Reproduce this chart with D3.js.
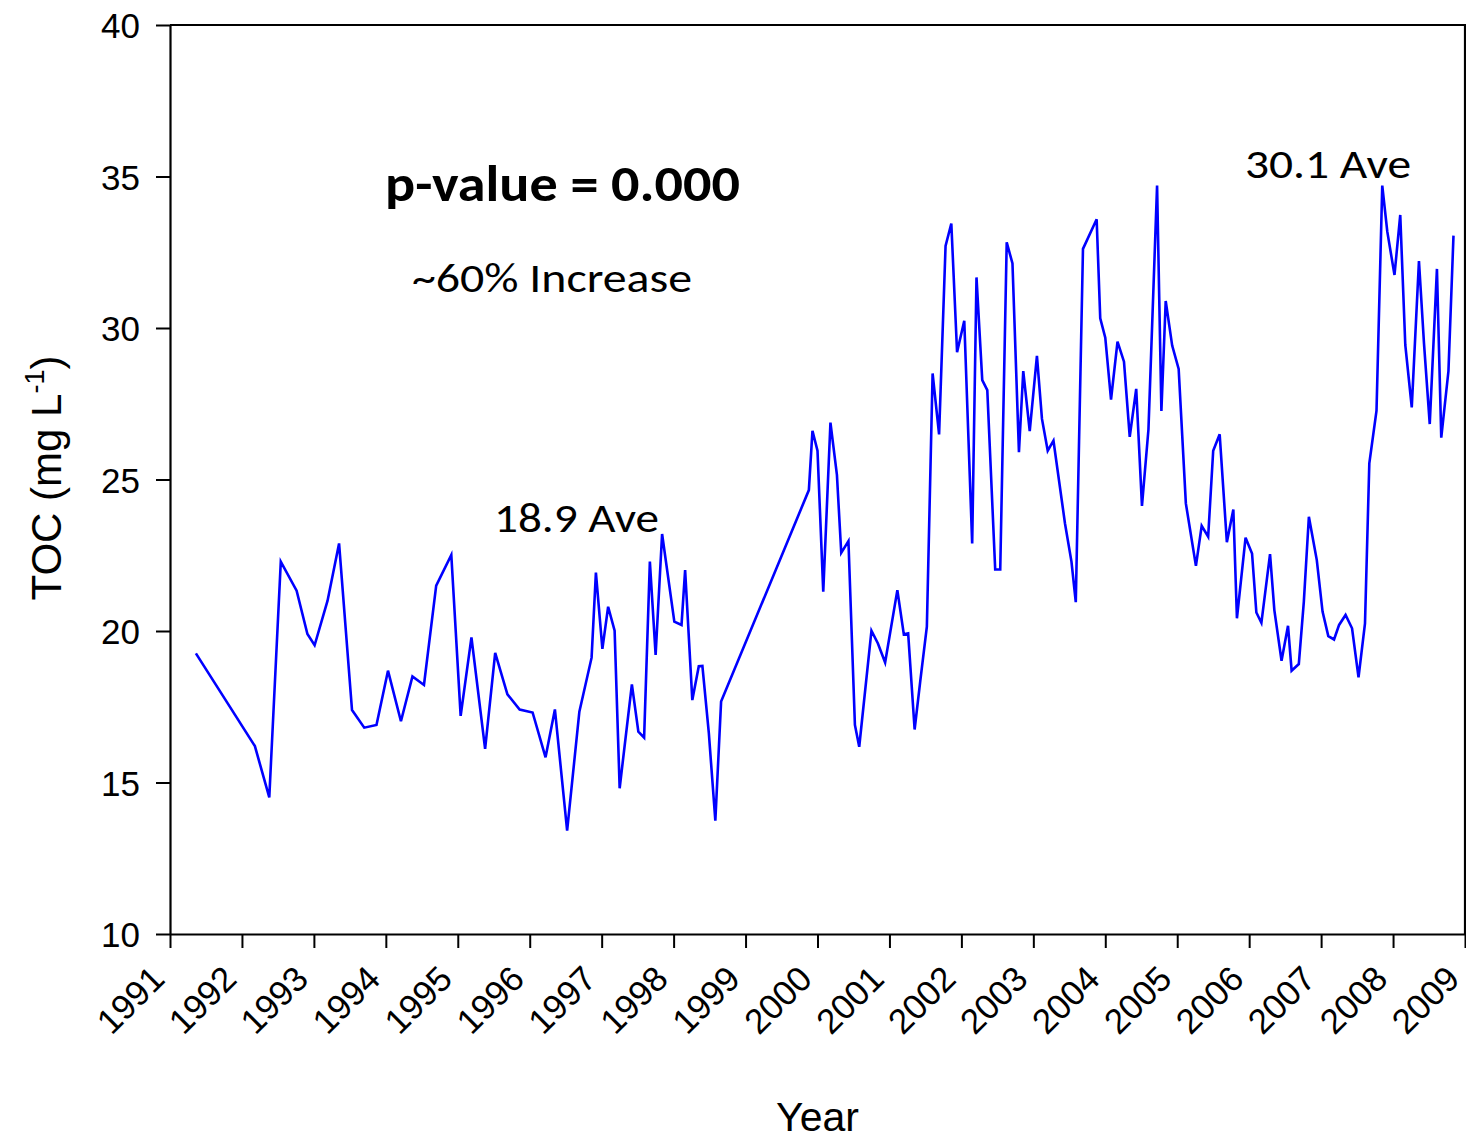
<!DOCTYPE html>
<html>
<head>
<meta charset="utf-8">
<script src="https://cdn.jsdelivr.net/npm/d3@7"></script>
<style>
  html, body { margin: 0; padding: 0; background: #fff; }
  svg { display: block; }
  .tick text { font-family: "Liberation Sans", Arial, sans-serif; font-size: 35px; fill: #000; }
</style>
</head>
<body>
<svg id="chart" width="1466" height="1140"></svg>
<script>
// Sampling dates (decimal year) and TOC concentrations (mg/L)
const sampleYear = [
  1991.36, 1992.18, 1992.38, 1992.54, 1992.76, 1992.91, 1993.01, 1993.19, 1993.35, 1993.53,
  1993.70, 1993.87, 1994.03, 1994.21, 1994.37, 1994.53, 1994.70, 1994.91, 1995.04, 1995.19,
  1995.38, 1995.52, 1995.69, 1995.86, 1996.04, 1996.22, 1996.35, 1996.52, 1996.69, 1996.86,
  1996.92, 1997.01, 1997.09, 1997.18, 1997.25, 1997.42, 1997.51, 1997.59, 1997.67, 1997.75,
  1997.84, 1998.01, 1998.11, 1998.16, 1998.26, 1998.35, 1998.40, 1998.49, 1998.58, 1998.66,
  1999.88, 1999.93, 2000.00, 2000.08, 2000.18, 2000.27, 2000.33, 2000.43, 2000.52, 2000.58,
  2000.75, 2000.84, 2000.94, 2001.11, 2001.20, 2001.26, 2001.35, 2001.43, 2001.52, 2001.60,
  2001.69, 2001.78, 2001.86, 2001.94, 2002.04, 2002.15, 2002.21, 2002.29, 2002.36, 2002.47,
  2002.54, 2002.63, 2002.71, 2002.80, 2002.86, 2002.95, 2003.05, 2003.12, 2003.20, 2003.28,
  2003.44, 2003.53, 2003.59, 2003.69, 2003.88, 2003.93, 2004.00, 2004.08, 2004.17, 2004.26,
  2004.34, 2004.43, 2004.51, 2004.60, 2004.72, 2004.78, 2004.84, 2004.93, 2005.02, 2005.12,
  2005.26, 2005.34, 2005.43, 2005.50, 2005.59, 2005.69, 2005.78, 2005.83, 2005.95, 2006.04,
  2006.10, 2006.17, 2006.29, 2006.35, 2006.45, 2006.54, 2006.59, 2006.69, 2006.76, 2006.83,
  2006.94, 2007.02, 2007.10, 2007.18, 2007.25, 2007.34, 2007.43, 2007.52, 2007.61, 2007.67,
  2007.77, 2007.85, 2007.92, 2008.02, 2008.10, 2008.17, 2008.26, 2008.36, 2008.43, 2008.51,
  2008.61, 2008.67, 2008.77, 2008.84
];

const tocValue = [
  19.26, 16.20, 14.51, 22.29, 21.33, 19.90, 19.53, 21.00, 22.89, 17.39,
  16.81, 16.90, 18.69, 17.02, 18.50, 18.22, 21.50, 22.51, 17.20, 19.79,
  16.11, 19.28, 17.91, 17.41, 17.31, 15.83, 17.41, 13.41, 17.34, 19.12,
  21.93, 19.41, 20.80, 20.01, 14.81, 18.24, 16.68, 16.48, 22.29, 19.21,
  23.20, 20.31, 20.20, 22.01, 17.72, 18.84, 18.85, 16.62, 13.74, 17.67,
  24.65, 26.61, 25.95, 21.30, 26.88, 25.15, 22.58, 22.97, 16.90, 16.18,
  20.01, 19.59, 18.96, 21.35, 19.89, 19.92, 16.75, 18.38, 20.14, 28.50,
  26.49, 32.71, 33.45, 29.20, 30.24, 22.89, 31.67, 28.28, 27.95, 22.03,
  22.03, 32.83, 32.13, 25.90, 28.58, 26.60, 29.08, 27.00, 25.95, 26.28,
  23.55, 22.29, 20.95, 32.61, 33.59, 30.32, 29.68, 27.64, 29.55, 28.89,
  26.41, 27.99, 24.13, 26.65, 34.70, 27.26, 30.89, 29.42, 28.65, 24.21,
  22.15, 23.47, 23.11, 25.95, 26.49, 22.93, 24.01, 20.42, 23.08, 22.56,
  20.61, 20.27, 22.54, 20.69, 19.02, 20.17, 18.69, 18.91, 20.97, 23.77,
  22.34, 20.64, 19.83, 19.72, 20.20, 20.53, 20.09, 18.47, 20.25, 25.53,
  27.27, 34.70, 33.18, 31.75, 33.73, 29.44, 27.38, 32.21, 29.49, 26.83,
  31.95, 26.38, 28.58, 33.05
];

// Axis ticks
const yearTicks = d3.range(1991, 2010);
const tocTicks = [10, 15, 20, 25, 30, 35, 40];

const margin = { top: 25, right: 1, bottom: 206, left: 170 };
const W = 1466, H = 1140;
const innerW = W - margin.left - margin.right;
const innerH = H - margin.top - margin.bottom;

const svg = d3.select("#chart");
const g = svg.append("g").attr("transform", `translate(${margin.left},${margin.top})`);

const x = d3.scaleLinear().domain([1991, 2009]).range([0, innerW]);
const y = d3.scaleLinear().domain([10, 40]).range([innerH, 0]);

const points = sampleYear.map((yr, i) => ({ yr, v: tocValue[i] }));

// Data line
const line = d3.line().x(d => x(d.yr)).y(d => y(d.v));
g.append("path")
  .datum(points)
  .attr("fill", "none")
  .attr("stroke", "#0000ff")
  .attr("stroke-width", 2.6)
  .attr("stroke-linejoin", "miter")
  .attr("d", line);

// Frame: top and right edges
g.append("path")
  .attr("d", `M0,0H${innerW}V${innerH}`)
  .attr("fill", "none")
  .attr("stroke", "#000")
  .attr("stroke-width", 2.2);

// X axis
const xAxis = g.append("g")
  .attr("transform", `translate(0,${innerH})`)
  .call(d3.axisBottom(x).tickValues(yearTicks).tickFormat(d3.format("d")).tickSize(14).tickSizeOuter(0));
xAxis.select(".domain").attr("stroke-width", 2.2);
xAxis.selectAll(".tick line").attr("stroke-width", 2);
xAxis.selectAll(".tick text")
  .attr("x", 0).attr("y", 0).attr("dy", 0)
  .attr("text-anchor", "end")
  .attr("transform", "translate(-4,47) rotate(-45)");

// Y axis
const yAxis = g.append("g")
  .call(d3.axisLeft(y).tickValues(tocTicks).tickSize(14).tickSizeOuter(0));
yAxis.select(".domain").attr("stroke-width", 2.2);
yAxis.selectAll(".tick line").attr("stroke-width", 2);
yAxis.selectAll(".tick text").attr("x", -30).attr("dy", "0.36em");

// Axis titles
svg.append("text")
  .attr("x", margin.left + x(2000)).attr("y", 1131)
  .attr("text-anchor", "middle")
  .attr("font-family", "Liberation Sans, Arial, sans-serif")
  .attr("font-size", 41)
  .text("Year");

const yTitle = svg.append("text")
  .attr("transform", "translate(61,478) rotate(-90)")
  .attr("text-anchor", "middle")
  .attr("font-family", "Liberation Sans, Arial, sans-serif")
  .attr("font-size", 42);
yTitle.append("tspan").text("TOC (mg L");
yTitle.append("tspan").attr("font-size", 27).attr("dy", -17).text("-1");
yTitle.append("tspan").attr("dy", 17).text(")");

// Annotations
const annoFont = "Carlito, Calibri, Lato, 'Open Sans', sans-serif";
function note(txt, px, py, size, len, weight) {
  svg.append("text")
    .attr("x", px).attr("y", py)
    .attr("font-family", annoFont)
    .attr("font-size", size)
    .attr("font-weight", weight || "normal")
    .attr("textLength", len)
    .attr("lengthAdjust", "spacingAndGlyphs")
    .text(txt);
}
note("p-value = 0.000", 385, 201, 50, 355, "bold");
note("~60% Increase", 412, 292, 41, 280);
note("18.9 Ave", 494, 532, 41, 165);
note("30.1 Ave", 1245, 178, 41, 166);
</script>
</body>
</html>
